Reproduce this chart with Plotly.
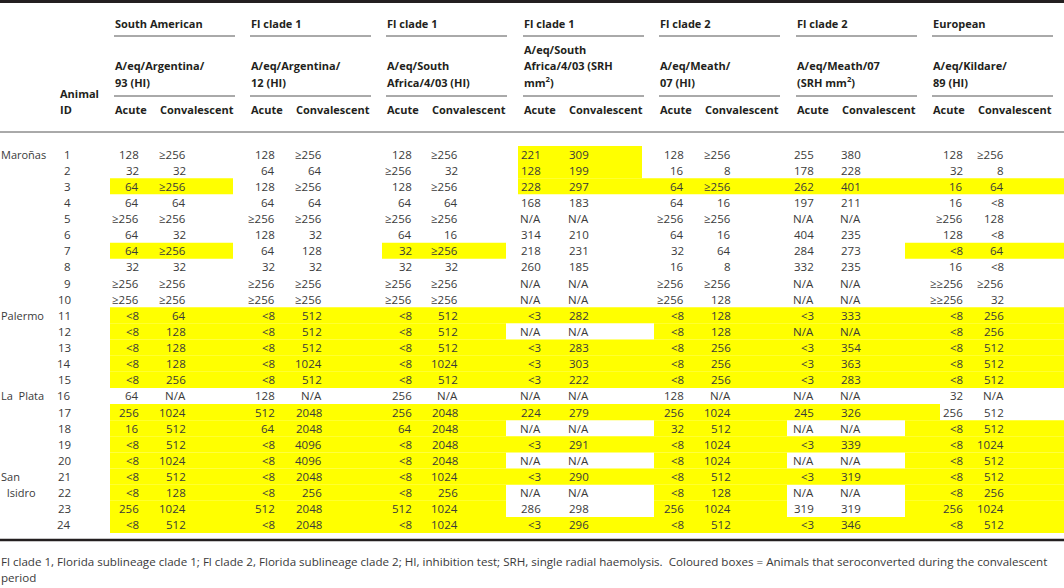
import plotly.graph_objects as go

W, H = 1064, 588

# --- table content -------------------------------------------------------
group_names = ["South American", "Fl clade 1", "Fl clade 1", "Fl clade 1",
               "Fl clade 2", "Fl clade 2", "European"]
strain_lines = [
    ["A/eq/Argentina/", "93 (HI)"],
    ["A/eq/Argentina/", "12 (HI)"],
    ["A/eq/South", "Africa/4/03 (HI)"],
    ["A/eq/South", "Africa/4/03 (SRH", "mm<sup>2</sup>)"],
    ["A/eq/Meath/", "07 (HI)"],
    ["A/eq/Meath/07", "(SRH mm<sup>2</sup>)"],
    ["A/eq/Kildare/", "89 (HI)"],
]
sub_cols = ["Acute", "Convalescent"]
animal_ids = list(range(1, 25))
site_rows = [1, 11, 16, 21, 22]
site_names = ["Maroñas", "Palermo", "La Plata", "San", " Isidro"]

arg93_acute = ["128", "32", "64", "64", "≥256", "64", "64", "32", "≥256", "≥256",
               "<8", "<8", "<8", "<8", "<8", "64", "256", "16", "<8", "<8",
               "<8", "<8", "256", "<8"]
arg93_conv = ["≥256", "32", "≥256", "64", "≥256", "32", "≥256", "32", "≥256", "≥256",
              "64", "128", "128", "128", "256", "N/A", "1024", "512", "512", "1024",
              "512", "128", "1024", "512"]
arg12_acute = ["128", "64", "128", "64", "≥256", "128", "64", "32", "≥256", "≥256",
               "<8", "<8", "<8", "<8", "<8", "128", "512", "64", "<8", "<8",
               "<8", "<8", "512", "<8"]
arg12_conv = ["≥256", "64", "≥256", "64", "≥256", "32", "128", "32", "≥256", "≥256",
              "512", "512", "512", "1024", "512", "N/A", "2048", "2048", "4096", "4096",
              "2048", "256", "2048", "2048"]
saf_hi_acute = ["128", "≥256", "128", "64", "≥256", "64", "32", "32", "≥256", "≥256",
                "<8", "<8", "<8", "<8", "<8", "256", "256", "64", "<8", "<8",
                "<8", "<8", "512", "<8"]
saf_hi_conv = ["≥256", "32", "≥256", "64", "≥256", "16", "≥256", "32", "≥256", "≥256",
               "512", "512", "512", "1024", "512", "N/A", "2048", "2048", "2048", "2048",
               "1024", "256", "1024", "1024"]
saf_srh_acute = ["221", "128", "228", "168", "N/A", "314", "218", "260", "N/A", "N/A",
                 "<3", "N/A", "<3", "<3", "<3", "N/A", "224", "N/A", "<3", "N/A",
                 "<3", "N/A", "286", "<3"]
saf_srh_conv = ["309", "199", "297", "183", "N/A", "210", "231", "185", "N/A", "N/A",
                "282", "N/A", "283", "303", "222", "N/A", "279", "N/A", "291", "N/A",
                "290", "N/A", "298", "296"]
meath_hi_acute = ["128", "16", "64", "64", "≥256", "64", "32", "16", "≥256", "≥256",
                  "<8", "<8", "<8", "<8", "<8", "128", "256", "32", "<8", "<8",
                  "<8", "<8", "256", "<8"]
meath_hi_conv = ["≥256", "8", "≥256", "16", "≥256", "16", "64", "8", "≥256", "128",
                 "128", "128", "256", "256", "256", "N/A", "1024", "512", "1024", "1024",
                 "512", "128", "1024", "512"]
meath_srh_acute = ["255", "178", "262", "197", "N/A", "404", "284", "332", "N/A", "N/A",
                   "<3", "N/A", "<3", "<3", "<3", "N/A", "245", "N/A", "<3", "N/A",
                   "<3", "N/A", "319", "<3"]
meath_srh_conv = ["380", "228", "401", "211", "N/A", "235", "273", "235", "N/A", "N/A",
                  "333", "N/A", "354", "363", "283", "N/A", "326", "N/A", "339", "N/A",
                  "319", "N/A", "319", "346"]
kild_acute = ["128", "32", "16", "16", "≥256", "128", "<8", "16", "≥≥256", "≥≥256",
              "<8", "<8", "<8", "<8", "<8", "32", "256", "<8", "<8", "<8",
              "<8", "<8", "256", "<8"]
kild_conv = ["≥256", "8", "64", "<8", "128", "<8", "64", "<8", "≥256", "32",
             "256", "256", "512", "512", "512", "N/A", "512", "512", "1024", "512",
             "512", "256", "1024", "512"]

# 1 = animal seroconverted (coloured box)
sero_arg93 = [0,0,1,0,0,0,1,0,0,0,1,1,1,1,1,0,1,1,1,1,1,1,1,1]
sero_arg12 = [0,0,0,0,0,0,0,0,0,0,1,1,1,1,1,0,1,1,1,1,1,1,1,1]
sero_saf_hi = [0,0,0,0,0,0,1,0,0,0,1,1,1,1,1,0,1,1,1,1,1,1,1,1]
sero_saf_srh = [1,1,1,0,0,0,0,0,0,0,1,0,1,1,1,0,1,0,1,0,1,0,0,1]
sero_meath_hi = [0,0,1,0,0,0,0,0,0,0,1,1,1,1,1,0,1,1,1,1,1,1,1,1]
sero_meath_srh = [0,0,1,0,0,0,0,0,0,0,1,1,1,1,1,0,1,0,1,0,1,0,0,1]
sero_kild = [0,0,1,0,0,0,1,0,0,0,1,1,1,1,1,0,0,1,1,1,1,1,1,1]

footnote = ["Fl clade 1, Florida sublineage clade 1; Fl clade 2, Florida sublineage clade 2; "
            "HI, inhibition test; SRH, single radial haemolysis.  Coloured boxes = Animals that "
            "seroconverted during the convalescent",
            "period"]

acute = [arg93_acute, arg12_acute, saf_hi_acute, saf_srh_acute,
         meath_hi_acute, meath_srh_acute, kild_acute]
conv = [arg93_conv, arg12_conv, saf_hi_conv, saf_srh_conv,
        meath_hi_conv, meath_srh_conv, kild_conv]
sero = [sero_arg93, sero_arg12, sero_saf_hi, sero_saf_srh,
        sero_meath_hi, sero_meath_srh, sero_kild]

# --- layout geometry -----------------------------------------------------
FONT = "Open Sans"
TXT = "#3a3a3a"
HEAD = "#231f20"
YELLOW = "#ffff00"
FS = 11.5

group_x = [114, 250, 386, 523, 659, 796, 932]
group_w = 121
acute_off = [26, 26, 27, 19, 26, 19, 32]
conv_off = [73, 73, 73, 67, 73, 66, 73]
box_left = [110, 246, 382, 518, 654, 790, 905]
box_right = [233, 370, 506, 642, 787, 940, 1064]
row_y0, row_h = 154, 16.13

fig = go.Figure()
shapes, ann = [], []


def text(x, y, s, anchor="left", bold=False, size=FS, color=None):
    ann.append(dict(x=x, y=y, text=f"<b>{s}</b>" if bold else s, showarrow=False,
                    xanchor=anchor, yanchor="middle", borderpad=0,
                    font=dict(family=FONT, size=size,
                              color=color or (HEAD if bold else TXT))))


def hline(y, x0, x1, w=1, color="#444444"):
    shapes.append(dict(type="line", x0=x0, x1=x1, y0=y, y1=y,
                       line=dict(color=color, width=w)))


# coloured boxes
for r in range(len(animal_ids)):
    yc = row_y0 + r * row_h
    g = 0
    while g < len(group_x):
        if sero[g][r]:
            s = g
            while g + 1 < len(group_x) and sero[g + 1][r]:
                g += 1
            shapes.append(dict(type="rect", x0=box_left[s], x1=box_right[g],
                               y0=yc - row_h / 2, y1=yc + row_h / 2,
                               fillcolor=YELLOW, line=dict(width=0), layer="below"))
        g += 1

# rules
hline(1.5, 0, W, w=3, color="#231f20")
hline(132, 0, W, w=1, color="#555555")
hline(540, 0, W, w=2.5, color="#231f20")
for gx in group_x:
    hline(36, gx, gx + group_w, w=1, color="#555555")
    hline(96, gx, gx + group_w, w=1, color="#555555")

# header
text(59, 93, "Animal", bold=True, size=11)
text(59, 109, "ID", bold=True, size=11)
for g, gx in enumerate(group_x):
    text(gx, 23, group_names[g], bold=True, size=11)
    lines = strain_lines[g]
    for k, ln in enumerate(lines):
        text(gx, 82 - (len(lines) - 1 - k) * 16.3, ln, bold=True, size=11)
    text(gx, 109, sub_cols[0], bold=True, size=11)
    text(gx + group_w, 109, sub_cols[1], anchor="right", bold=True, size=11)

# body
for r, aid in enumerate(animal_ids):
    yc = row_y0 + r * row_h
    text(72, yc, str(aid), anchor="right")
    for g, gx in enumerate(group_x):
        text(gx + acute_off[g], yc, acute[g][r], anchor="right")
        text(gx + conv_off[g], yc, conv[g][r], anchor="right")
for rr, nm in zip(site_rows, site_names):
    text(0, row_y0 + (rr - 1) * row_h, nm.replace(" ", "&nbsp;&nbsp;"), size=11)

# footnote
text(0, 561, footnote[0], size=11.6)
text(0, 577, footnote[1], size=11.6)

fig.update_layout(
    width=W, height=H, margin=dict(l=0, r=0, t=0, b=0),
    paper_bgcolor="white", plot_bgcolor="white",
    xaxis=dict(range=[0, W], visible=False, fixedrange=True),
    yaxis=dict(range=[H, 0], visible=False, fixedrange=True),
    shapes=shapes, annotations=ann, showlegend=False,
)
fig.write_html("out.html", config={"displayModeBar": False},
               post_script="document.body.style.margin='0';")
